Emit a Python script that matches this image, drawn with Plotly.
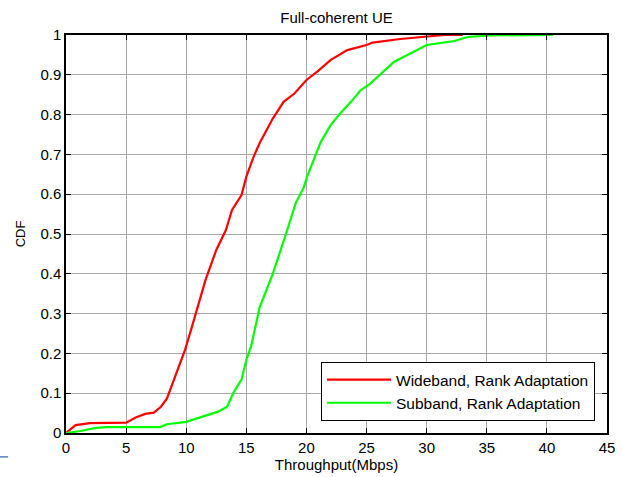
import plotly.graph_objects as go

# Wideband, Rank Adaptation (red)
wide_x = [0, 0.8, 2, 5, 5.8, 6.6, 7.3, 7.9, 8.4, 8.85, 9.4, 9.9, 10.4, 10.8, 11.6, 12.5,
          13.3, 13.8, 14.6, 15.0, 15.6, 16.1, 16.7, 17.2, 18.1, 19.0, 20.0, 20.9, 22.0,
          23.4, 25.0, 25.5, 27.8, 30.0, 31.5, 33.0]
wide_y = [0.0, 0.02, 0.025, 0.026, 0.039, 0.048, 0.051, 0.066, 0.087, 0.125, 0.167, 0.209,
          0.259, 0.30, 0.384, 0.46, 0.51, 0.56, 0.598, 0.644, 0.694, 0.728, 0.761, 0.79,
          0.832, 0.853, 0.887, 0.908, 0.937, 0.962, 0.975, 0.981, 0.99, 0.997, 1.0, 1.0]

# Subband, Rank Adaptation (green)
sub_x = [0, 1.2, 2.5, 3.4, 7.8, 8.4, 10.0, 11.4, 12.6, 13.4, 13.9, 14.6, 15.0, 15.4, 15.8,
         16.1, 17.2, 18.2, 18.4, 19.1, 19.8, 20.05, 20.6, 21.2, 22.0, 22.8, 23.7, 24.5,
         25.3, 26.2, 27.3, 28.4, 30.0, 32.3, 33.4, 35.3, 40.5]
sub_y = [0, 0.005, 0.013, 0.015, 0.015, 0.022, 0.028, 0.042, 0.053, 0.066, 0.1, 0.134,
         0.184, 0.218, 0.277, 0.315, 0.4, 0.49, 0.51, 0.577, 0.619, 0.644, 0.686, 0.732,
         0.773, 0.803, 0.832, 0.861, 0.878, 0.903, 0.933, 0.95, 0.975, 0.985, 0.995, 0.999, 1.0]

x_ticks = [0, 5, 10, 15, 20, 25, 30, 35, 40, 45]
y_ticks = [0, 0.1, 0.2, 0.3, 0.4, 0.5, 0.6, 0.7, 0.8, 0.9, 1]
y_labels = ["0", "0.1", "0.2", "0.3", "0.4", "0.5", "0.6", "0.7", "0.8", "0.9", "1"]

FONT = "Liberation Sans, Arial, sans-serif"

fig = go.Figure()
fig.add_trace(go.Scatter(x=wide_x, y=wide_y, mode="lines", name="Wideband, Rank Adaptation",
                         line=dict(color="#ff0000", width=2.2)))
fig.add_trace(go.Scatter(x=sub_x, y=sub_y, mode="lines", name="Subband, Rank Adaptation",
                         line=dict(color="#00ff00", width=2.2)))

axis_common = dict(showline=True, linecolor="black", linewidth=1.5, mirror="ticks",
                   ticks="inside", ticklen=5, tickcolor="black",
                   showgrid=True, gridcolor="#a8a8a8", gridwidth=1, zeroline=False,
                   tickfont=dict(family=FONT, size=15, color="black"))

fig.update_xaxes(range=[0, 45], tickvals=x_ticks,
                 title=dict(text="Throughput(Mbps)", font=dict(family=FONT, size=15, color="black"),
                            standoff=4),
                 **axis_common)
fig.update_yaxes(range=[0, 1], tickvals=y_ticks, ticktext=y_labels,
                 title=dict(text="CDF", font=dict(family=FONT, size=13, color="black"),
                            standoff=12),
                 **axis_common)

fig.update_layout(
    width=623, height=477,
    margin=dict(l=66, r=16, t=35, b=44, autoexpand=False),
    paper_bgcolor="white", plot_bgcolor="white",
    title=dict(text="Full-coherent UE", x=0.5, xanchor="center", xref="paper",
               y=1 - 17.5 / 477, yref="container", yanchor="middle",
               font=dict(family=FONT, size=15, color="black")),
    legend=dict(x=(595 - 66) / 541, xanchor="right", y=(433 - 421) / 398, yanchor="bottom",
                bgcolor="white", bordercolor="black", borderwidth=1,
                font=dict(family=FONT, size=15.5, color="black"),
                itemwidth=64, tracegroupgap=0),
    showlegend=True,
)

# small decorative blue line in the lower-left corner of the image
fig.add_shape(type="line", xref="paper", yref="paper",
              x0=-0.122, x1=-0.107, y0=-0.06, y1=-0.06,
              line=dict(color="#4f81bd", width=1.5))

fig.write_html("out.html", config={"displayModeBar": False},
               post_script="document.body.style.margin='0px';")
